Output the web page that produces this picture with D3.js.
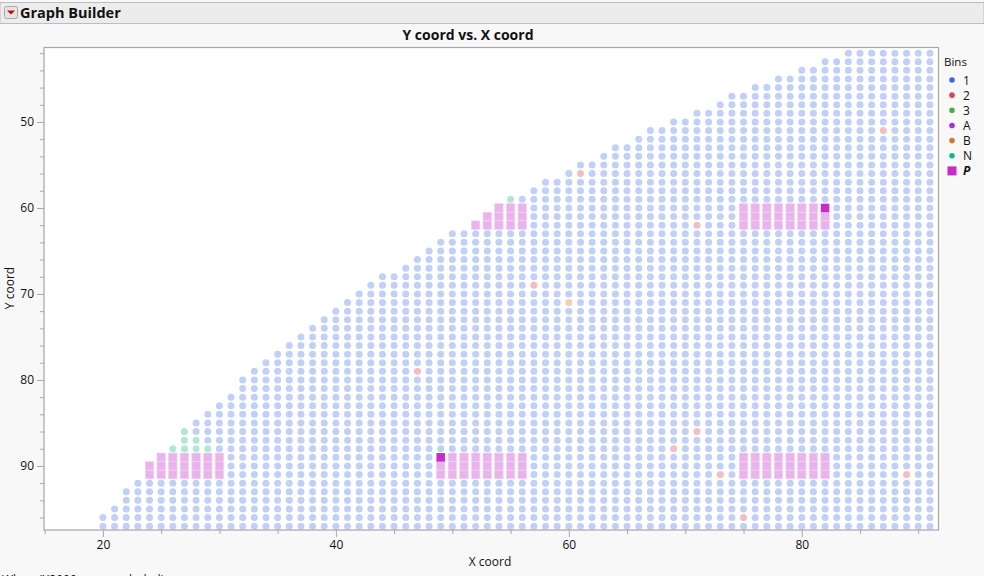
<!DOCTYPE html>
<html>
<head>
<meta charset="utf-8">
<script src="https://cdn.jsdelivr.net/npm/d3@7/dist/d3.min.js"></script>
<style>
html,body{margin:0;padding:0;background:#f8f8f8;overflow:hidden}
svg{display:block}
text{font-family:"Open Sans","Noto Sans",sans-serif;fill:#111}
</style>
</head>
<body>
<svg id="c" width="984" height="576"></svg>
<script>
// Y rows and the first X column occupied on each row (wafer edge); every row runs to lastColumn
const rowY = [42,43,44,45,46,47,48,49,50,51,52,53,54,55,56,57,58,59,60,61,62,63,64,65,66,67,68,69,70,71,72,73,74,75,76,77,78,79,80,81,82,83,84,85,86,87,88,89,90,91,92,93,94,95,96,97];
const rowFirstX = [84,82,80,78,76,74,73,71,69,67,66,64,63,61,60,58,57,55,54,53,52,50,49,48,47,46,44,43,42,41,40,39,38,37,36,35,34,33,32,32,31,30,29,28,27,27,26,25,24,24,23,22,22,21,20,20];
const lastColumn = 91;

// Bin categories
const binNames = ["1","2","3","A","B","N","P"];
const binColors = ["#4169e0","#d9485c","#45b04c","#a92fd8","#d07a2e","#1fb08c","#c92ac9"];
const fadedColors = {"1":"#c1d0f6","2":"#f4bdc2","B":"#f6cdb4","N":"#b2e6d5"};

// Dies in bin 2, bin B and bin N
const bin2X = [87,61,71,57,47,71,69,73,89,75];
const bin2Y = [51,56,62,69,79,86,88,91,91,96];
const binBX = [60];
const binBY = [71];
const binNX = [55,27,27,28,26,27,28,29];
const binNY = [59,86,87,87,88,88,88,88];

// Bin P dies as runs on a row: y, first x, last x
const pRunY =     [60,60,61,61,62,62,89,89,89,90,90,90,91,91,91];
const pRunFirst = [54,75,53,75,52,75,25,49,75,24,49,75,24,49,75];
const pRunLast =  [56,82,56,82,56,82,30,56,82,30,56,82,30,56,82];
// Selected dies
const selectedX = [49,82];
const selectedY = [89,60];

// Axis ticks
const xMajor = [20,40,60,80];
const xMinor = [15,25,30,35,45,50,55,65,70,75,85,90];
const yMajor = [50,60,70,80,90];
const yMinor = [42,44,46,48,52,54,56,58,62,64,66,68,72,74,76,78,82,84,86,88,92,94,96];

const svg = d3.select("#c");
const plot = {l:44, r:938.5, t:47.5, b:530};
const x = d3.scaleLinear().domain([14.94,91.74]).range([plot.l,plot.r]);
const y = d3.scaleLinear().domain([41.34,97.45]).range([plot.t,plot.b]);

// Outline-header band
svg.append("rect").attr("x",0).attr("y",2.5).attr("width",984).attr("height",21).attr("fill","#ececec").attr("stroke","#bdbdbd");
svg.append("rect").attr("x",4.5).attr("y",6.5).attr("width",13).attr("height",12).attr("rx",2).attr("fill","#e4e4e4").attr("stroke","#a8a8a8");
svg.append("path").attr("d","M7 10.5h8l-4 4z").attr("fill","#d00000");
svg.append("text").attr("x",20).attr("y",18).attr("font-size",14.5).attr("font-weight",700).text("Graph Builder");
svg.append("text").attr("x",468).attr("y",40).attr("text-anchor","middle").attr("font-size",14).attr("font-weight",700).text("Y coord vs. X coord");

// Plot frame
svg.append("rect").attr("x",plot.l).attr("y",plot.t).attr("width",plot.r-plot.l).attr("height",plot.b-plot.t).attr("fill","#fff");

// Build cells
const key = (a,b)=>a+"_"+b;
const pCells = [];
pRunY.forEach((ry,i)=>d3.range(pRunFirst[i],pRunLast[i]+1).forEach(cx=>pCells.push({x:cx,y:ry})));
const selected = new Set(selectedX.map((v,i)=>key(v,selectedY[i])));
const pSet = new Set(pCells.map(d=>key(d.x,d.y)));
const special = new Map();
bin2X.forEach((v,i)=>special.set(key(v,bin2Y[i]),"2"));
binBX.forEach((v,i)=>special.set(key(v,binBY[i]),"B"));
binNX.forEach((v,i)=>special.set(key(v,binNY[i]),"N"));
const dots = [];
rowY.forEach((ry,i)=>d3.range(rowFirstX[i],lastColumn+1).forEach(cx=>{
  if(!pSet.has(key(cx,ry))) dots.push({x:cx,y:ry,bin:special.get(key(cx,ry))||"1"});
}));

// Marks
const cw = 8.5, ch = Math.abs(y(1)-y(0));
svg.append("g").selectAll("rect").data(pCells.filter(d=>!selected.has(key(d.x,d.y)))).join("rect")
  .attr("x",d=>x(d.x)-cw/2).attr("y",d=>y(d.y)-ch/2).attr("width",cw).attr("height",ch)
  .attr("fill","#e9b4ec").attr("stroke","#f3d3f4").attr("stroke-width",0.7);
svg.append("g").selectAll("rect").data(pCells.filter(d=>selected.has(key(d.x,d.y)))).join("rect")
  .attr("x",d=>x(d.x)-cw/2).attr("y",d=>y(d.y)-ch/2).attr("width",cw).attr("height",ch)
  .attr("fill","#c92ac9");
svg.append("g").selectAll("circle").data(dots).join("circle")
  .attr("cx",d=>x(d.x)).attr("cy",d=>y(d.y)).attr("r",3.5)
  .attr("fill",d=>fadedColors[d.bin]);

// Frame on top
svg.append("rect").attr("x",plot.l).attr("y",plot.t).attr("width",plot.r-plot.l).attr("height",plot.b-plot.t).attr("fill","none").attr("stroke","#a6a6a6").attr("stroke-width",1.2);

// Axes
function styleAxis(g){ g.select(".domain").remove(); g.selectAll("line").attr("stroke","#a8a8a8"); g.selectAll("text").attr("font-size",12).style("fill","#111"); }
svg.append("g").attr("transform",`translate(0,${plot.b})`).call(d3.axisBottom(x).tickValues(xMajor).tickSize(7).tickPadding(3).tickFormat(d3.format("d"))).call(styleAxis);
svg.append("g").attr("transform",`translate(0,${plot.b})`).call(d3.axisBottom(x).tickValues(xMinor).tickSize(4).tickFormat("")).call(styleAxis);
svg.append("g").attr("transform",`translate(${plot.l},0)`).call(d3.axisLeft(y).tickValues(yMajor).tickSize(7).tickPadding(3).tickFormat(d3.format("d"))).call(styleAxis);
svg.append("g").attr("transform",`translate(${plot.l},0)`).call(d3.axisLeft(y).tickValues(yMinor).tickSize(4).tickFormat("")).call(styleAxis);

svg.append("text").attr("x",490).attr("y",566).attr("text-anchor","middle").attr("font-size",12).text("X coord");
svg.append("text").attr("transform","translate(14,288) rotate(-90)").attr("text-anchor","middle").attr("font-size",12).text("Y coord");

// Legend
svg.append("text").attr("x",944).attr("y",66).attr("font-size",11.5).text("Bins");
const lg = svg.append("g").selectAll("g").data(binNames).join("g")
  .attr("transform",(d,i)=>`translate(0,${80+i*15.15})`);
lg.each(function(d,i){
  const g = d3.select(this);
  if(d==="P") g.append("rect").attr("x",947.5).attr("y",-4.5).attr("width",9).attr("height",9).attr("fill",binColors[i]);
  else g.append("circle").attr("cx",952).attr("cy",0).attr("r",2.8).attr("fill",binColors[i]);
  g.append("text").attr("x",963).attr("y",4.5).attr("font-size",12)
    .attr("font-weight",d==="P"?700:400).attr("font-style",d==="P"?"italic":"normal").text(d);
});

// Where clause cut off by the window edge, as in the reference
svg.append("text").attr("x",2).attr("y",584).attr("font-size",12).text("Where(X2000 rows excluded)");
</script>
</body>
</html>
